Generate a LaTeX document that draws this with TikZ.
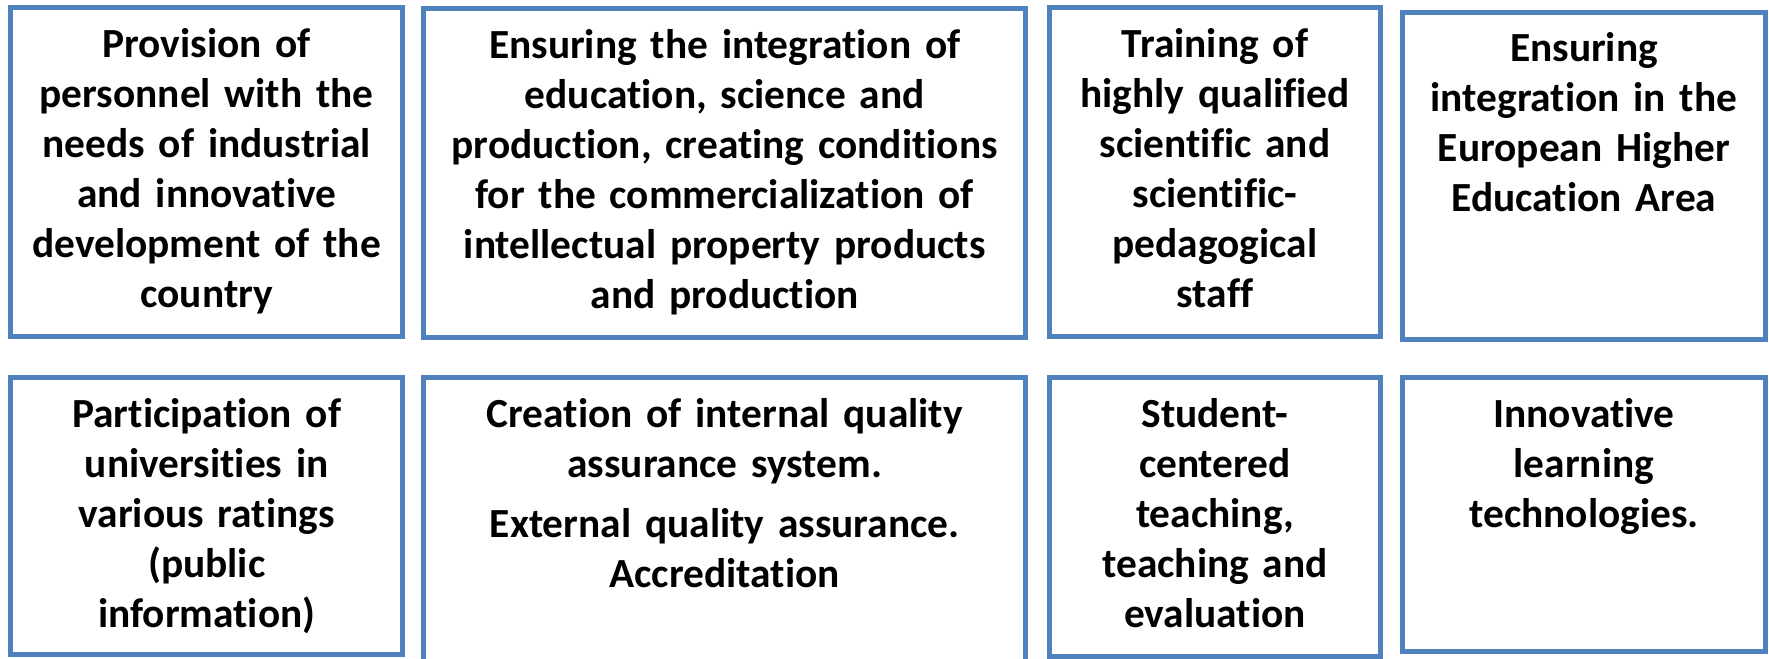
\documentclass[tikz,border=0pt]{standalone}
\usepackage{fontspec}
\setmainfont{Carlito}[Ligatures=NoCommon]
\usepackage{tikz}
\usetikzlibrary{positioning}
\definecolor{boxblue}{RGB}{79,129,189}

\begin{document}
\begin{tikzpicture}
\tikzstyle{goal}=[rectangle, draw=boxblue, line width=2.5pt, inner sep=0pt, outer sep=0pt, align=center, text height=24.75pt, font=\fontsize{20.7}{25}\selectfont\bfseries]
\tikzstyle{upper}=[goal, text depth=139.75pt]
\tikzstyle{lower}=[goal, text depth=113.75pt]

\useasboundingbox (-5.4pt,3.75pt) rectangle (879.1pt,-325.75pt);

  % first row
  \node[upper, text width=195.9pt, anchor=north west] (prov) at (0,0) {Provision of\\ personnel with the\\ needs of industrial\\ and innovative\\ development of the\\ country};
  \node[upper, text width=301.1pt, right=10.5pt of prov.north east, anchor=north west, yshift=-0.5pt] (integ) {Ensuring the integration of\\ education, science and\\ production, creating conditions\\ for the commercialization of\\ intellectual property products\\ and production};
  \node[upper, text width=165.5pt, right=11.85pt of integ.north east, anchor=north west, yshift=0.5pt] (train) {Training of\\ highly qualified\\ scientific and\\ scientific-\\ pedagogical\\ staff};
  \node[upper, text width=181.5pt, text depth=138.75pt, right=11pt of train.north east, anchor=north west, yshift=-2.25pt] (europe) {Ensuring\\ integration in the\\ European Higher\\ Education Area};

  % second row
  \node[lower, text width=195.9pt, below=20.7pt of prov.south west, anchor=north west] (rating) {Participation of\\ universities in\\ various ratings\\ (public\\ information)};
  \node[lower, text width=301.1pt, text depth=122.25pt, right=10.5pt of rating.north east, anchor=north west] (quality) {Creation of internal quality\\ assurance system.\\[5pt] External quality assurance.\\ Accreditation};
  \node[lower, text width=165.5pt, text depth=114.5pt, right=11.85pt of quality.north east, anchor=north west] (student) {Student-\\ centered\\ teaching,\\ teaching and\\ evaluation};
  \node[lower, text width=181.5pt, text depth=112.25pt, right=11pt of student.north east, anchor=north west] (innov) {Innovative\\ learning\\ technologies.};
\end{tikzpicture}
\end{document}
